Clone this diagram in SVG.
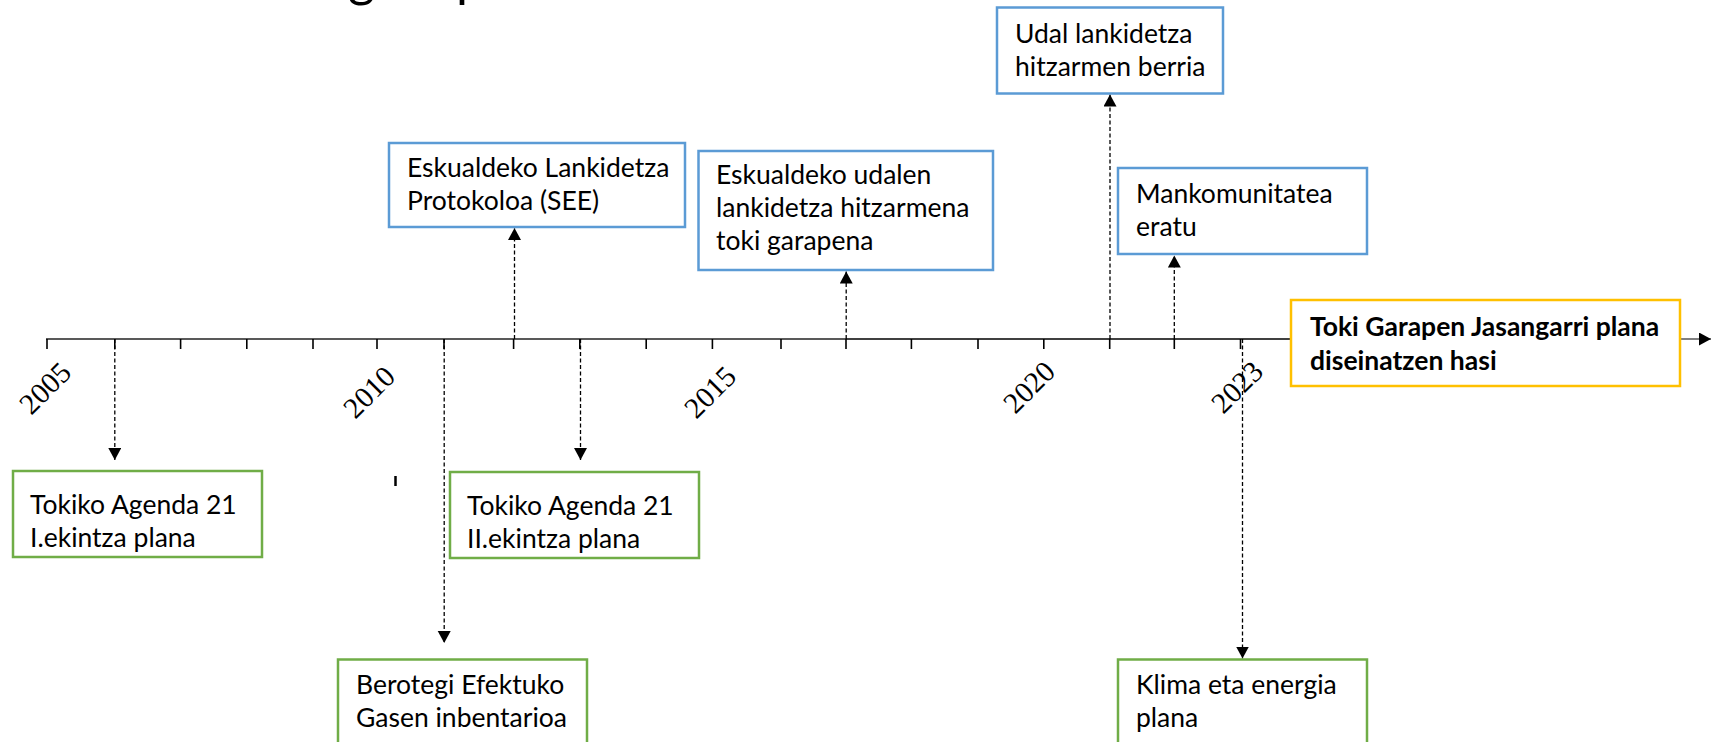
<svg xmlns="http://www.w3.org/2000/svg" width="1733" height="742" viewBox="0 0 1733 742">
<style>
.box{fill:#fff;stroke-width:2.5}
.blue{stroke:#5B9BD5}
.green{stroke:#70AD47}
.gold{stroke:#FFC000}
.t{font-family:Lato,"Liberation Sans",sans-serif;font-size:26.5px;fill:#000}
.tb{font-weight:bold}
.yr{font-family:"Liberation Serif",serif;font-size:29.5px;fill:#000;text-anchor:middle}
.dash{stroke:#000;stroke-width:1.3;stroke-dasharray:4 2.5;fill:none}
.tick{stroke:#000;stroke-width:1.6}
.title{font-family:Lato,"Liberation Sans",sans-serif;font-size:52px;fill:#000}
</style>
<defs>
<marker id="ah" markerUnits="userSpaceOnUse" markerWidth="14" markerHeight="14" refX="12" refY="6.5" orient="auto">
<path d="M0,0 L12,6.5 L0,13 Z" fill="#000"/>
</marker>
</defs>
<rect width="1733" height="742" fill="#fff"/>
<g id="title">
<text class="title" x="348" y="-4">g</text>
<text class="title" x="456" y="-4">p</text>
</g>
<g id="axis">
<line x1="46" y1="339" x2="846" y2="339" stroke="#595959" stroke-width="2"/>
<line x1="846" y1="339" x2="1291" y2="339" stroke="#000" stroke-width="1.5"/>
<line x1="1680" y1="339" x2="1711" y2="339" stroke="#808080" stroke-width="2" marker-end="url(#ah)"/>
<g class="tick">
<line x1="47" y1="339" x2="47" y2="349"/>
<line x1="114.8" y1="339" x2="114.8" y2="349"/>
<line x1="180.6" y1="339" x2="180.6" y2="349"/>
<line x1="246.8" y1="339" x2="246.8" y2="349"/>
<line x1="313" y1="339" x2="313" y2="349"/>
<line x1="377" y1="339" x2="377" y2="349"/>
<line x1="444" y1="339" x2="444" y2="349"/>
<line x1="513.6" y1="339" x2="513.6" y2="349"/>
<line x1="579.8" y1="339" x2="579.8" y2="349"/>
<line x1="646.2" y1="339" x2="646.2" y2="349"/>
<line x1="712.4" y1="339" x2="712.4" y2="349"/>
<line x1="781" y1="339" x2="781" y2="349"/>
<line x1="846" y1="339" x2="846" y2="349"/>
<line x1="911.4" y1="339" x2="911.4" y2="349"/>
<line x1="978" y1="339" x2="978" y2="349"/>
<line x1="1043.8" y1="339" x2="1043.8" y2="349"/>
<line x1="1109.7" y1="339" x2="1109.7" y2="349"/>
<line x1="1174.3" y1="339" x2="1174.3" y2="349"/>
<line x1="1240.5" y1="339" x2="1240.5" y2="349"/>
</g>
<line x1="395.5" y1="476" x2="395.5" y2="486" stroke="#000" stroke-width="2.5"/>
<text class="yr" transform="translate(45,388) rotate(-45)" y="10">2005</text>
<text class="yr" transform="translate(369,392) rotate(-45)" y="10">2010</text>
<text class="yr" transform="translate(710,392) rotate(-45)" y="10">2015</text>
<text class="yr" transform="translate(1029,387) rotate(-45)" y="10">2020</text>
<text class="yr" transform="translate(1237,387) rotate(-45)" y="10">2023</text>
</g>
<g id="connectors">
<line class="dash" x1="114.8" y1="339" x2="114.8" y2="460" marker-end="url(#ah)"/>
<line class="dash" x1="444.2" y1="339" x2="444.2" y2="643" marker-end="url(#ah)"/>
<line class="dash" x1="514.5" y1="339" x2="514.5" y2="228" marker-end="url(#ah)"/>
<line class="dash" x1="580.5" y1="339" x2="580.5" y2="460" marker-end="url(#ah)"/>
<line class="dash" x1="846.2" y1="339" x2="846.2" y2="271.5" marker-end="url(#ah)"/>
<line class="dash" x1="1110" y1="339" x2="1110" y2="94.5" marker-end="url(#ah)"/>
<line class="dash" x1="1174.3" y1="339" x2="1174.3" y2="255.5" marker-end="url(#ah)"/>
<line class="dash" x1="1242.5" y1="339" x2="1242.5" y2="658.5" marker-end="url(#ah)"/>
</g>
<g id="n-protokoloa">
<rect class="box blue" x="389" y="143" width="296" height="84"/>
<text class="t" x="407" y="177">Eskualdeko Lankidetza</text>
<text class="t" x="407" y="210">Protokoloa (SEE)</text>
</g>
<g id="n-hitzarmena">
<rect class="box blue" x="698.5" y="151" width="294.5" height="119"/>
<text class="t" x="716" y="184">Eskualdeko udalen</text>
<text class="t" x="716" y="217">lankidetza hitzarmena</text>
<text class="t" x="716" y="250">toki garapena</text>
</g>
<g id="n-udal">
<rect class="box blue" x="997" y="7.5" width="226" height="86"/>
<text class="t" x="1015" y="43">Udal lankidetza</text>
<text class="t" x="1015" y="76">hitzarmen berria</text>
</g>
<g id="n-mankomunitatea">
<rect class="box blue" x="1118" y="168" width="249" height="86"/>
<text class="t" x="1136" y="203">Mankomunitatea</text>
<text class="t" x="1136" y="236">eratu</text>
</g>
<g id="n-toki-garapen">
<rect class="box gold" x="1291" y="300" width="389" height="86"/>
<text class="t tb" x="1310" y="336">Toki Garapen Jasangarri plana</text>
<text class="t tb" x="1310" y="370">diseinatzen hasi</text>
</g>
<g id="n-agenda1">
<rect class="box green" x="13" y="471" width="249" height="86"/>
<text class="t" x="30" y="514">Tokiko Agenda 21</text>
<text class="t" x="30" y="547">I.ekintza plana</text>
</g>
<g id="n-agenda2">
<rect class="box green" x="450" y="472" width="249" height="86"/>
<text class="t" x="467" y="515">Tokiko Agenda 21</text>
<text class="t" x="467" y="548">II.ekintza plana</text>
</g>
<g id="n-berotegi">
<rect class="box green" x="338" y="659.5" width="249" height="95"/>
<text class="t" x="356" y="694">Berotegi Efektuko</text>
<text class="t" x="356" y="727">Gasen inbentarioa</text>
</g>
<g id="n-klima">
<rect class="box green" x="1118" y="659.5" width="249" height="95"/>
<text class="t" x="1136" y="694">Klima eta energia</text>
<text class="t" x="1136" y="727">plana</text>
</g>
</svg>
